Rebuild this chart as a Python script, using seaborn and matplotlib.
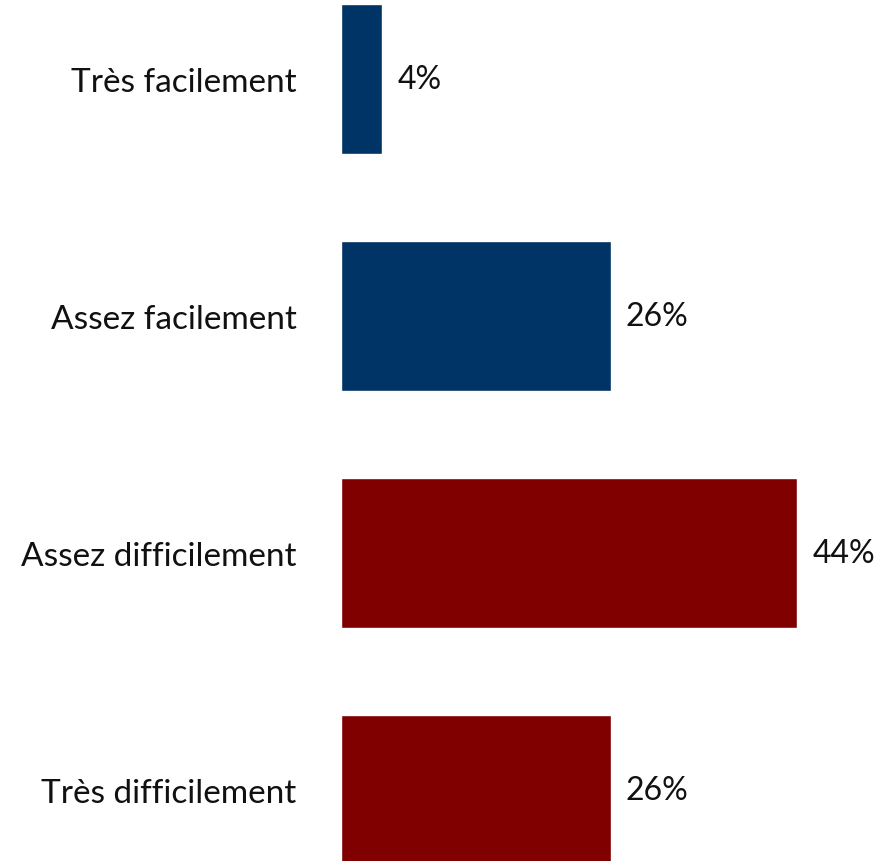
import matplotlib
matplotlib.use("Agg")
import matplotlib.pyplot as plt
import seaborn as sns
import pandas as pd

categories = ["Très facilement", "Assez facilement", "Assez difficilement", "Très difficilement"]
values = [4, 26, 44, 26]
value_labels = ["4%", "26%", "44%", "26%"]
colors = ["#003366", "#003366", "#800000", "#800000"]

df = pd.DataFrame({"cat": categories, "val": values})

sns.set_style("white")
plt.rcParams["font.family"] = ["Lato", "DejaVu Sans"]

fig = plt.figure(figsize=(8.79, 8.62), dpi=100)
ax = fig.add_axes([341 / 879, 0, 1 - 341 / 879, 1])

sns.barplot(data=df, x="val", y="cat", hue="cat", palette=colors,
            width=0.633, legend=False, ax=ax, saturation=1)

ax.set_xlim(0, 51.9)
ax.set_ylim(3.30, -0.338)
ax.set_xlabel("")
ax.set_ylabel("")
ax.set_xticks([])
ax.tick_params(axis="y", length=0, pad=32, labelsize=24)
sns.despine(ax=ax, left=True, bottom=True, top=True, right=True)

for i, (v, lab) in enumerate(zip(values, value_labels)):
    ax.annotate(lab, (v, i), xytext=(11, 0), textcoords="offset points",
                va="center", ha="left", fontsize=23, color="#111111",
                annotation_clip=False)
for t in ax.get_yticklabels():
    t.set_color("#111111")

fig.savefig("out.png", dpi=100)
